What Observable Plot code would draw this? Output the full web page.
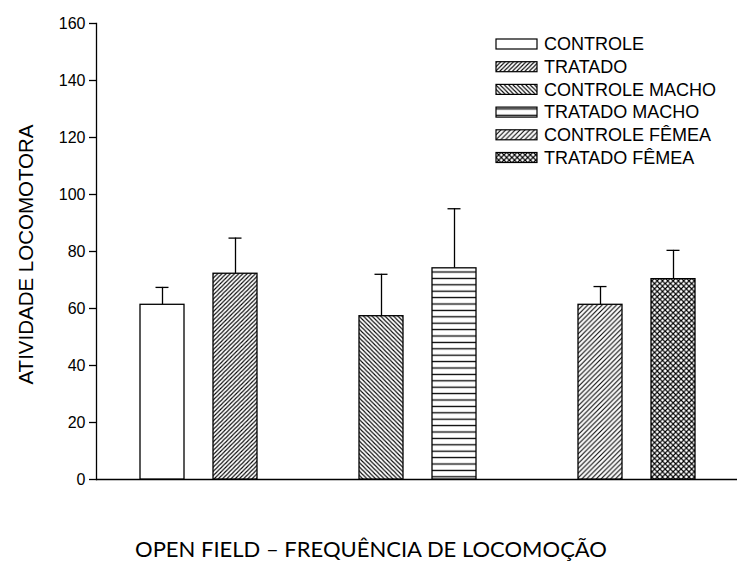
<!DOCTYPE html>
<html><head><meta charset="utf-8">
<script src="https://cdn.jsdelivr.net/npm/d3@7"></script>
<script src="https://cdn.jsdelivr.net/npm/@observablehq/plot@0.6"></script>
<style>body{margin:0;background:#fff} #chart{width:737px;height:567px}</style>
</head><body><div id="chart"></div>
<script>
const groups = ["CONTROLE", "TRATADO", "CONTROLE MACHO", "TRATADO MACHO", "CONTROLE FÊMEA", "TRATADO FÊMEA"];
const means = [61.3, 72.2, 57.3, 74.1, 61.3, 70.3];
const errors = [6.1, 12.5, 14.7, 20.9, 6.4, 10.1];
const slots = ["CONTROLE", "TRATADO", "gap1", "CONTROLE MACHO", "TRATADO MACHO", "gap2", "CONTROLE FÊMEA", "TRATADO FÊMEA"];
const fills = ["white", "url(#pSlash)", "url(#pBack)", "url(#pHoriz)", "url(#pSlash2)", "url(#pCross)"];
const yTicks = [0, 20, 40, 60, 80, 100, 120, 140, 160];
const yLabel = "ATIVIDADE LOCOMOTORA";
const title = "OPEN FIELD – FREQUÊNCIA DE LOCOMOÇÃO";

const data = groups.map((g, i) => ({g, mean: means[i], top: means[i] + errors[i], fill: fills[i]}));
const SW = 1.3;

const plot = Plot.plot({
  width: 737, height: 567,
  marginTop: 23, marginLeft: 96, marginRight: 0, marginBottom: 88,
  style: {fontFamily: "'Liberation Sans', Arial, sans-serif", fontSize: "16px", color: "#000", background: "#fff"},
  x: {type: "band", domain: slots, range: [140, 696], paddingInner: 0.397, paddingOuter: 0, axis: null},
  y: {domain: [0, 160], axis: null},
  color: {type: "identity"},
  marks: [
    Plot.axisY(yTicks, {tickSize: 7, tickPadding: 4, label: null, fontSize: 16, strokeWidth: SW}),
    Plot.frame({anchor: "left", strokeWidth: SW}),
    Plot.ruleY([0], {strokeWidth: SW}),
    Plot.ruleX(data, {x: "g", y1: "mean", y2: "top", strokeWidth: SW}),
    Plot.tickY(data, {x: "g", y: "top", insetLeft: 15.5, insetRight: 15.5, strokeWidth: SW}),
    Plot.barY(data, {x: "g", y: "mean", fill: "fill", stroke: "black", strokeWidth: SW}),
    Plot.text([yLabel], {text: d => d, frameAnchor: "left", rotate: -90, dx: -70, dy: 3, textAnchor: "middle", lineAnchor: "middle", fontSize: 20.5}),
    Plot.text([title], {text: d => d, frameAnchor: "bottom", dy: 70, dx: -46, textAnchor: "middle", lineAnchor: "middle", fontSize: 22, fontFamily: "Lato"})
  ]
});

const svg = d3.select(plot);
const defs = svg.insert("defs", ":first-child");
function diag(id, s, dir) {
  const p = defs.append("pattern").attr("id", id).attr("patternUnits", "userSpaceOnUse").attr("width", s).attr("height", s);
  p.append("rect").attr("width", s).attr("height", s).attr("fill", "white");
  const d = dir === "/"
    ? `M${-s/2},${s/2} L${s/2},${-s/2} M0,${s} L${s},0 M${s/2},${1.5*s} L${1.5*s},${s/2}`
    : `M${-s/2},${s/2} L${s/2},${1.5*s} M0,0 L${s},${s} M${s/2},${-s/2} L${1.5*s},${s/2}`;
  p.append("path").attr("d", d).attr("stroke", "black").attr("stroke-width", 1.1);
  return p;
}
diag("pSlash", 4.2, "/");
diag("pBack", 4.3, "\\");
diag("pSlash2", 4.8, "/");
const c = diag("pCross", 5.3, "/");
c.append("path").attr("d", "M-2.65,2.65 L2.65,7.95 M0,0 L5.3,5.3 M2.65,-2.65 L7.95,2.65").attr("stroke", "black").attr("stroke-width", 1.1);
const h = defs.append("pattern").attr("id", "pHoriz").attr("patternUnits", "userSpaceOnUse").attr("width", 8).attr("height", 6.4);
h.append("rect").attr("width", 8).attr("height", 6.4).attr("fill", "white");
h.append("line").attr("x1", 0).attr("x2", 8).attr("y1", 3.2).attr("y2", 3.2).attr("stroke", "black").attr("stroke-width", 1.3);

const lg = svg.append("g").attr("transform", "translate(496,44)")
  .attr("text-anchor", "start")
  .style("font-family", "'Liberation Sans', Arial, sans-serif").style("font-size", "18px");
groups.forEach((g, i) => {
  const row = lg.append("g").attr("transform", `translate(0,${i * 22.7})`);
  row.append("rect").attr("x", 0).attr("y", -5).attr("width", 41).attr("height", 10)
    .attr("fill", fills[i]).attr("stroke", "black").attr("stroke-width", 1.2);
  row.append("text").attr("x", 48).attr("y", 0).attr("dy", "0.35em").attr("text-anchor", "start").attr("fill", "black").text(g);
});

document.getElementById("chart").appendChild(plot);
</script>
</body></html>
